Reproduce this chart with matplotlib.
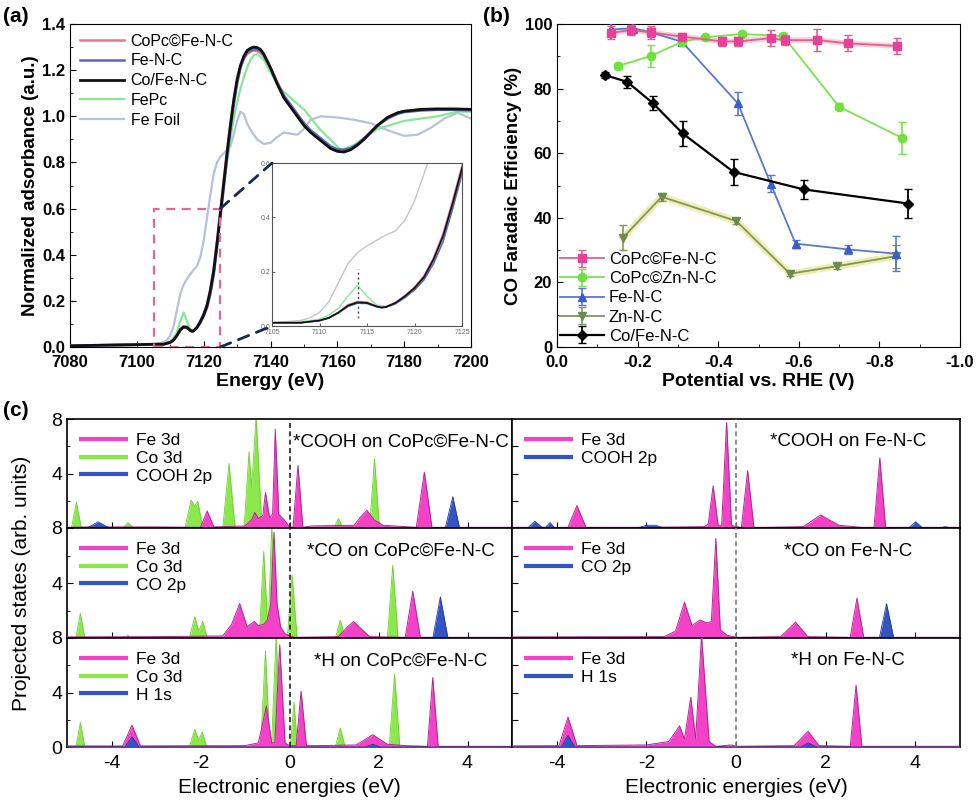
import matplotlib
matplotlib.use("Agg")
import matplotlib.pyplot as plt
from matplotlib.patches import Rectangle, ConnectionPatch
from matplotlib.ticker import MultipleLocator

plt.rcParams['font.family'] = ['Liberation Sans', 'DejaVu Sans']
plt.rcParams['axes.unicode_minus'] = False

W, H = 977, 807

# ---------------- panel (a): XANES ----------------
e_grid = [7080, 7090, 7100, 7105, 7108, 7110, 7111, 7112, 7113, 7114, 7115, 7116, 7116.5, 7117, 7118,
          7119, 7120, 7121, 7122, 7123, 7124, 7125, 7126, 7127, 7128, 7129, 7130, 7131, 7132, 7133,
          7134, 7135, 7136, 7137, 7138, 7140, 7142, 7144, 7146, 7148, 7150, 7152, 7155, 7158, 7160,
          7162, 7164, 7166, 7168, 7170, 7172, 7175, 7178, 7180, 7185, 7190, 7195, 7200]
cofe_abs = [0.005, 0.008, 0.01, 0.012, 0.012, 0.02, 0.03, 0.05, 0.075, 0.087, 0.085, 0.072, 0.068, 0.07, 0.085,
            0.11, 0.14, 0.18, 0.245, 0.33, 0.45, 0.58, 0.71, 0.84, 0.96, 1.07, 1.16, 1.22, 1.26, 1.285,
            1.295, 1.30, 1.298, 1.29, 1.27, 1.21, 1.14, 1.08, 1.04, 1.0, 0.96, 0.93, 0.895, 0.86, 0.848,
            0.845, 0.855, 0.875, 0.9, 0.93, 0.96, 0.995, 1.015, 1.022, 1.03, 1.032, 1.032, 1.03]
copc_abs = [0.005, 0.008, 0.01, 0.012, 0.012, 0.02, 0.03, 0.05, 0.078, 0.09, 0.088, 0.073, 0.069, 0.071, 0.087,
            0.112, 0.143, 0.185, 0.25, 0.34, 0.46, 0.59, 0.72, 0.85, 0.97, 1.07, 1.15, 1.21, 1.25, 1.27,
            1.28, 1.285, 1.283, 1.275, 1.26, 1.21, 1.15, 1.09, 1.05, 1.01, 0.97, 0.935, 0.9, 0.865, 0.852,
            0.85, 0.858, 0.878, 0.903, 0.932, 0.962, 0.995, 1.015, 1.022, 1.028, 1.03, 1.03, 1.028]
fenc_abs = [0.005, 0.008, 0.01, 0.012, 0.012, 0.02, 0.03, 0.048, 0.072, 0.084, 0.083, 0.071, 0.067, 0.069, 0.082,
            0.105, 0.133, 0.17, 0.23, 0.31, 0.43, 0.56, 0.69, 0.82, 0.94, 1.05, 1.14, 1.21, 1.25, 1.275,
            1.285, 1.29, 1.29, 1.283, 1.265, 1.21, 1.145, 1.09, 1.05, 1.01, 0.97, 0.94, 0.905, 0.87, 0.857,
            0.855, 0.862, 0.88, 0.905, 0.932, 0.96, 0.99, 1.01, 1.018, 1.025, 1.028, 1.028, 1.026]
fepc_e = [7080, 7100, 7105, 7108, 7110, 7111, 7112, 7113, 7114, 7115, 7116, 7117, 7118, 7119, 7120,
          7121, 7122, 7123, 7124, 7125, 7126, 7127, 7128, 7129, 7130, 7131, 7132, 7133, 7134, 7135,
          7136, 7138, 7140, 7143, 7146, 7150, 7155, 7161, 7165, 7172, 7180, 7190, 7196, 7200]
fepc_abs = [0.005, 0.01, 0.012, 0.015, 0.025, 0.04, 0.065, 0.11, 0.15, 0.11, 0.078, 0.072, 0.085, 0.105, 0.135,
            0.175, 0.24, 0.33, 0.44, 0.57, 0.69, 0.8, 0.9, 0.99, 1.06, 1.12, 1.17, 1.21, 1.245, 1.265,
            1.27, 1.245, 1.19, 1.12, 1.08, 1.03, 0.94, 0.855, 0.875, 0.945, 0.98, 1.0, 1.02, 1.02]
foil_e = [7080, 7100, 7105, 7108, 7109, 7110, 7111, 7112, 7113, 7114, 7115, 7116, 7117, 7118, 7119,
          7120, 7121, 7122, 7123, 7124, 7125, 7126, 7127, 7128, 7129, 7130, 7131, 7132, 7133, 7134,
          7136, 7138, 7140, 7142, 7144, 7146, 7148, 7150, 7152, 7155, 7160, 7165, 7170, 7175, 7180,
          7184, 7188, 7192, 7196, 7200]
foil_abs = [0.003, 0.008, 0.012, 0.02, 0.03, 0.05, 0.09, 0.16, 0.23, 0.27, 0.295, 0.315, 0.335, 0.35, 0.39,
            0.46, 0.56, 0.66, 0.75, 0.8, 0.825, 0.84, 0.855, 0.87, 0.92, 0.98, 1.02, 1.01, 0.97, 0.94,
            0.9, 0.88, 0.885, 0.91, 0.93, 0.925, 0.92, 0.945, 0.985, 1.0, 0.995, 0.985, 0.97, 0.94, 0.915,
            0.92, 0.95, 0.99, 1.015, 0.99]

# ---------------- panel (b): CO faradaic efficiency ----------------
v_copc_fe = [-0.135, -0.183, -0.233, -0.31, -0.41, -0.449, -0.53, -0.565, -0.646, -0.723, -0.843]
fe_copc_fe = [97.3, 98.1, 97.4, 96.1, 94.6, 94.6, 95.6, 95.0, 95.0, 94.0, 93.2]
er_copc_fe = [2, 1.5, 2, 1, 1.5, 1.5, 2.5, 1.5, 3.5, 2.5, 2.5]
v_copc_zn = [-0.152, -0.233, -0.31, -0.368, -0.459, -0.561, -0.70, -0.855]
fe_copc_zn = [87.0, 90.1, 94.5, 95.9, 96.9, 96.3, 74.4, 64.8]
er_copc_zn = [1, 3.5, 1, 0.5, 0.5, 1, 1, 5]
v_fenc = [-0.135, -0.188, -0.233, -0.31, -0.449, -0.53, -0.592, -0.723, -0.841]
fe_fenc = [98.3, 98.7, 97.4, 94.5, 75.4, 50.6, 32.0, 30.2, 28.9]
er_fenc = [2, 1.5, 1.5, 1, 3.5, 2.5, 1.2, 1.5, 5.5]
v_znnc = [-0.164, -0.26, -0.445, -0.578, -0.694, -0.841]
fe_znnc = [33.9, 46.5, 39.0, 22.7, 25.0, 28.1]
er_znnc = [4, 1.2, 1, 0.8, 0.8, 3.5]
v_cofe = [-0.119, -0.174, -0.237, -0.312, -0.438, -0.612, -0.872]
fe_cofe = [84.2, 82.1, 75.6, 66.1, 54.2, 48.8, 44.4]
er_cofe = [1, 1.8, 2.2, 4, 4, 3, 4.5]

# ---------------- panel (c): projected DOS (vertices) ----------------
# *COOH on CoPc@Fe-N-C
c1_co_x = [-5, -4.9, -4.79, -4.68, -3.75, -3.63, -3.5, -2.35, -2.21, -2.13, -2.06, -1.95, -1.5, -1.36,
           -1.22, -1.02, -0.91, -0.85, -0.75, -0.62, -0.5, 1.0, 1.10, 1.2, 1.8, 1.91, 2.02, 5]
c1_co_y = [0, 0, 1.9, 0, 0, 0.4, 0, 0, 2.05, 1.6, 1.95, 0, 0, 4.75,
           0, 0, 5.6, 3.0, 8.2, 0, 0, 0, 0.7, 0, 0, 5.1, 0, 0]
c1_fe_x = [-5, -4.5, -4.3, -4.1, -3, -2.0, -1.85, -1.7, -1.0, -0.85, -0.78, -0.7, -0.6, -0.54, -0.45,
           -0.38, -0.32, -0.24, -0.12, 0.0, 0.08, 0.19, 0.3, 0.5, 1.45, 1.6, 1.74, 1.9, 2.1, 2.85,
           3.03, 3.2, 3.5, 5]
c1_fe_y = [0.05, 0.08, 0.2, 0.08, 0.08, 0.05, 1.25, 0.08, 0.15, 0.6, 1.15, 0.7, 0.9, 2.6, 0.8,
           1.0, 7.25, 1.0, 0.6, 0.1, 0.05, 4.6, 0.05, 0.15, 0.2, 0.8, 1.3, 0.6, 0.2, 0.05,
           4.1, 0.05, 0.05, 0.05]
c1_ad_x = [-5, -4.55, -4.3, -4.05, 3.5, 3.67, 3.82, 5]
c1_ad_y = [0, 0, 0.45, 0, 0, 2.3, 0, 0]
# *CO on CoPc@Fe-N-C
c2_co_x = [-5, -4.8, -4.7, -4.6, -3.7, -3.63, -3.56, -2.25, -2.13, -2.04, -1.95, -1.85, -0.68, -0.58,
           -0.5, -0.47, -0.40, -0.3, -0.05, 0.06, 0.17, 1.03, 1.14, 1.25, 2.2, 2.32, 2.44, 5]
c2_co_y = [0, 0, 1.8, 0, 0, 0.2, 0, 0, 1.55, 0.5, 1.2, 0, 0, 6.3,
           1.5, 1.5, 8.2, 0, 0, 4.6, 0, 0, 1.3, 0, 0, 5.3, 0, 0]
c2_fe_x = [-5, -3.0, -1.5, -1.3, -1.12, -0.95, -0.88, -0.79, -0.7, -0.58, -0.5, -0.42, -0.35,
           -0.28, -0.2, -0.1, 0.1, 1.1, 1.3, 1.44, 1.6, 1.8, 2.6, 2.77, 2.94, 5]
c2_fe_y = [0.08, 0.1, 0.15, 1.0, 2.5, 0.8, 1.0, 1.2, 0.9, 1.0, 1.3, 2.5, 7.7,
           2.5, 0.8, 0.3, 0.05, 0.1, 0.8, 1.2, 0.7, 0.1, 0.05, 3.4, 0.05, 0.05]
c2_ad_x = [-5, 3.22, 3.39, 3.56, 5]
c2_ad_y = [0, 0, 3.0, 0, 0]
# *H on CoPc@Fe-N-C
c3_co_x = [-5, -4.8, -4.7, -4.6, -2.25, -2.13, -2.04, -1.96, -1.86, -0.65, -0.54, -0.45, -0.4,
           -0.30, -0.2, 0.02, 0.10, 0.18, 1.03, 1.14, 1.25, 2.24, 2.36, 2.48, 5]
c3_co_y = [0, 0, 1.8, 0, 0, 1.3, 0.5, 1.1, 0, 0, 7.05, 0.5, 0.5,
           8.2, 0, 0, 3.3, 0, 0, 1.4, 0, 0, 5.35, 0, 0]
c3_fe_x = [-5, -3.75, -3.54, -3.35, -1.0, -0.7, -0.52, -0.4, -0.33, -0.22, -0.1, 0.0, 0.15, 0.26,
           0.38, 0.6, 1.5, 1.87, 2.2, 2.6, 3.1, 3.22, 3.34, 5]
c3_fe_y = [0.08, 0.08, 1.6, 0.08, 0.1, 0.3, 3.0, 0.3, 0.3, 7.5, 0.3, 0.1, 0.1, 4.1,
           0.1, 0.1, 0.15, 0.9, 0.2, 0.1, 0.05, 5.1, 0.05, 0.05]
c3_ad_x = [-5, -3.7, -3.54, -3.38, 1.7, 1.87, 2.05, 5]
c3_ad_y = [0, 0, 0.75, 0, 0, 0.2, 0, 0]
# *COOH on Fe-N-C
f1_fe_x = [-5, -3.75, -3.55, -3.35, -2.0, -0.7, -0.62, -0.51, -0.4, -0.32, -0.21, -0.1, 0.0, 0.12,
           0.26, 0.4, 0.6, 1.5, 1.89, 2.3, 2.8, 3.08, 3.21, 3.34, 5]
f1_fe_y = [0.05, 0.05, 1.65, 0.05, 0.05, 0.1, 0.3, 3.1, 0.2, 0.2, 7.75, 0.2, 0.1, 0.05,
           4.2, 0.05, 0.05, 0.1, 0.95, 0.2, 0.05, 0.05, 5.15, 0.05, 0.05]
f1_ad_x = [-5, -4.65, -4.49, -4.33, -4.25, -4.15, -4.05, -2.2, -2.0, -1.8, -1.6, 3.85, 4.01, 4.17,
           4.55, 4.67, 4.8, 5]
f1_ad_y = [0, 0, 0.5, 0.05, 0.05, 0.4, 0, 0, 0.2, 0.2, 0, 0, 0.45, 0,
           0, 0.1, 0, 0]
# *CO on Fe-N-C
f2_fe_x = [-5, -1.6, -1.35, -1.15, -0.98, -0.81, -0.65, -0.55, -0.45, -0.35, -0.2, 0.0, 1.0, 1.33,
           1.6, 2.55, 2.70, 2.85, 5]
f2_fe_y = [0.08, 0.1, 0.5, 2.6, 0.9, 1.3, 1.1, 1.2, 7.25, 0.6, 0.2, 0.05, 0.1, 1.15,
           0.1, 0.05, 2.9, 0.05, 0.05]
f2_ad_x = [-5, 3.2, 3.36, 3.52, 5]
f2_ad_y = [0, 0, 2.5, 0, 0]
# *H on Fe-N-C
f3_fe_x = [-5, -3.95, -3.75, -3.55, -2.0, -1.5, -1.26, -1.15, -1.01, -0.9, -0.77, -0.6, -0.45, -0.1,
           0.0, 1.3, 1.61, 1.85, 2.55, 2.68, 2.81, 5]
f3_fe_y = [0.08, 0.1, 2.2, 0.1, 0.15, 0.4, 1.55, 0.6, 3.65, 0.6, 8.2, 0.4, 0.05, 0.15,
           0.05, 0.1, 1.15, 0.1, 0.05, 4.55, 0.05, 0.05]
f3_ad_x = [-5, -3.9, -3.75, -3.6, 1.45, 1.61, 1.8, 5]
f3_ad_y = [0, 0, 0.85, 0, 0, 0.3, 0, 0]


def box(l, t, r, b):
    return [l / W, 1 - b / H, (r - l) / W, (b - t) / H]


def bold_ticks(ax, size):
    ax.tick_params(labelsize=size)
    for lab in ax.get_xticklabels() + ax.get_yticklabels():
        lab.set_fontweight('bold')


fig = plt.figure(figsize=(9.77, 8.07), dpi=100)

# ===== (a) =====
ax = fig.add_axes(box(70, 24, 471, 347))
ax.plot(foil_e, foil_abs, color='#b9c0d8', lw=1.6, label='Fe Foil', zorder=2)
ax.plot(fepc_e, fepc_abs, color='#86e898', lw=1.6, label='FePc', zorder=3)
ax.plot(e_grid, copc_abs, color='#e07a8c', lw=1.8, label='CoPc©Fe-N-C', zorder=4)
ax.plot(e_grid, fenc_abs, color='#5a68b8', lw=1.8, label='Fe-N-C', zorder=5)
ax.plot(e_grid, cofe_abs, color='#111111', lw=2.0, label='Co/Fe-N-C', zorder=6)
ax.set_xlim(7080, 7200)
ax.set_ylim(0, 1.4)
ax.xaxis.set_major_locator(MultipleLocator(20))
ax.xaxis.set_minor_locator(MultipleLocator(10))
ax.yaxis.set_major_locator(MultipleLocator(0.2))
ax.yaxis.set_minor_locator(MultipleLocator(0.1))
ax.yaxis.set_major_formatter(plt.FormatStrFormatter('%.1f'))
ax.tick_params(direction='in', which='both', top=False, right=False)
ax.tick_params(which='major', length=4)
ax.tick_params(which='minor', length=2)
ax.tick_params(axis='x', pad=6)
bold_ticks(ax, 12)
ax.set_xlabel('Energy (eV)', fontsize=14, fontweight='bold', labelpad=2)
ax.set_ylabel('Normalized adsorbance (a.u.)', fontsize=13.5, fontweight='bold', labelpad=2)
handles, labels = ax.get_legend_handles_labels()
order = [2, 3, 4, 1, 0]
ax.legend([handles[i] for i in order], [labels[i] for i in order], loc='upper left',
          frameon=False, fontsize=11.5, handlelength=2.8, labelspacing=0.3,
          borderaxespad=0.2, handletextpad=0.4)
ax.add_patch(Rectangle((7105, 0), 20, 0.6, fill=False, edgecolor='#e06a8e',
                       linestyle=(0, (4, 3)), lw=1.6, zorder=7))

ins = fig.add_axes(box(272, 163, 462, 326))
ins.plot(foil_e, foil_abs, color='#c4c4c4', lw=1.0)
ins.plot(fepc_e, fepc_abs, color='#86e898', lw=1.0)
ins.plot(e_grid, copc_abs, color='#e07a8c', lw=1.2)
ins.plot(e_grid, fenc_abs, color='#5a68b8', lw=1.2)
ins.plot(e_grid, cofe_abs, color='#111111', lw=1.2)
ins.plot([7114, 7114], [0.03, 0.21], color='#444444', lw=1.0, linestyle=(0, (1.5, 2)))
ins.set_xlim(7105, 7125)
ins.set_ylim(0, 0.6)
ins.set_xticks([7105, 7110, 7115, 7120, 7125])
ins.set_yticks([0.0, 0.2, 0.4, 0.6])
ins.yaxis.set_major_formatter(plt.FormatStrFormatter('%.1f'))
ins.tick_params(direction='in', labelsize=5, colors='#666666', length=2, pad=1)
ins.tick_params(axis='x', pad=2)
for s in ins.spines.values():
    s.set_color('#555555')
    s.set_linewidth(0.8)

for xy_a, xy_i in [((7125, 0.6), (0, 1)), ((7125, 0.0), (0, 0))]:
    con = ConnectionPatch(xyA=xy_a, coordsA=ax.transData, xyB=xy_i, coordsB=ins.transAxes,
                          color='#1c2a4a', lw=2, linestyle=(0, (4, 3)), zorder=8)
    fig.add_artist(con)

# ===== (b) =====
bx = fig.add_axes(box(557, 24, 960, 347))
bx.plot(v_copc_fe, fe_copc_fe, color='#f6d0dc', lw=4, zorder=1)
bx.errorbar(v_copc_fe, fe_copc_fe, yerr=er_copc_fe, color='#e0608c', mfc='#e8409a', mec='#e8409a',
            marker='s', ms=6, lw=1.3, capsize=3, elinewidth=1.2, label='CoPc©Fe-N-C', zorder=5)
bx.errorbar(v_copc_zn, fe_copc_zn, yerr=er_copc_zn, color='#7ce050', mfc='#6fe03c', mec='#6fe03c',
            marker='o', ms=6, lw=1.3, capsize=3, elinewidth=1.2, label='CoPc©Zn-N-C', zorder=4)
bx.errorbar(v_fenc, fe_fenc, yerr=er_fenc, color='#5a78cc', mfc='#3a5ec8', mec='#3a5ec8',
            marker='^', ms=6, lw=1.3, capsize=3, elinewidth=1.2, label='Fe-N-C', zorder=3)
bx.plot(v_znnc, fe_znnc, color='#eeeeb0', lw=5, zorder=1)
bx.errorbar(v_znnc, fe_znnc, yerr=er_znnc, color='#7f965c', mfc='#6f8a50', mec='#6f8a50',
            marker='v', ms=6, lw=1.3, capsize=3, elinewidth=1.2, label='Zn-N-C', zorder=2)
bx.errorbar(v_cofe, fe_cofe, yerr=er_cofe, color='#000000', marker='D', ms=5, lw=1.6,
            capsize=3, elinewidth=1.3, label='Co/Fe-N-C', zorder=6)
bx.set_xlim(0, -1.0)
bx.set_ylim(0, 100)
bx.xaxis.set_major_locator(MultipleLocator(0.2))
bx.xaxis.set_minor_locator(MultipleLocator(0.1))
bx.yaxis.set_major_locator(MultipleLocator(20))
bx.yaxis.set_minor_locator(MultipleLocator(10))
bx.xaxis.set_major_formatter(plt.FormatStrFormatter('%.1f'))
bx.tick_params(direction='in', which='both', top=False, right=False)
bx.tick_params(which='major', length=4)
bx.tick_params(which='minor', length=2)
bx.tick_params(axis='x', pad=6)
bold_ticks(bx, 12)
bx.set_xlabel('Potential vs. RHE (V)', fontsize=14, fontweight='bold', labelpad=2)
bx.set_ylabel('CO Faradaic Efficiency (%)', fontsize=13.5, fontweight='bold', labelpad=2)
bx.legend(loc='lower left', frameon=False, fontsize=12, handlelength=2.6, labelspacing=0.25,
          borderaxespad=0.1, handletextpad=0.3, borderpad=0.1)

# ===== (c) =====
PINK, GREEN, BLUE = '#f442c8', '#8ae84a', '#3453c4'
rows = [(419, 528), (528, 638), (638, 747)]
left_data = [
    (c1_fe_x, c1_fe_y, c1_co_x, c1_co_y, c1_ad_x, c1_ad_y, 'COOH 2p', '*COOH on CoPc©Fe-N-C'),
    (c2_fe_x, c2_fe_y, c2_co_x, c2_co_y, c2_ad_x, c2_ad_y, 'CO 2p', '*CO on CoPc©Fe-N-C'),
    (c3_fe_x, c3_fe_y, c3_co_x, c3_co_y, c3_ad_x, c3_ad_y, 'H 1s', '*H on CoPc©Fe-N-C'),
]
right_data = [
    (f1_fe_x, f1_fe_y, None, None, f1_ad_x, f1_ad_y, 'COOH 2p', '*COOH on Fe-N-C'),
    (f2_fe_x, f2_fe_y, None, None, f2_ad_x, f2_ad_y, 'CO 2p', '*CO on Fe-N-C'),
    (f3_fe_x, f3_fe_y, None, None, f3_ad_x, f3_ad_y, 'H 1s', '*H on Fe-N-C'),
]

for col, (l, r, dataset, zcol) in enumerate([(67, 512, left_data, '#222222'),
                                              (512, 960, right_data, '#7a7a7a')]):
    for i, (t, b) in enumerate(rows):
        cx = fig.add_axes(box(l, t, r, b))
        fx, fy, cox, coy, adx, ady, adlab, title = dataset[i]
        if cox is not None:
            cx.fill_between(cox, 0, coy, color=GREEN, lw=0, zorder=2)
            cx.plot(cox, coy, color='#74cc3a', lw=0.6, zorder=2)
        cx.fill_between(fx, 0, fy, color=PINK, lw=0, zorder=3)
        cx.plot(fx, fy, color='#b02890', lw=0.7, zorder=3)
        cx.fill_between(adx, 0, ady, color=BLUE, lw=0, zorder=4)
        cx.plot(adx, ady, color='#243a90', lw=0.6, zorder=4)
        cx.axvline(0, color=zcol, lw=1.2, linestyle=(0, (3, 2)), zorder=5)
        # legend handles
        cx.plot([], [], color=PINK, lw=3, label='Fe 3d')
        if cox is not None:
            cx.plot([], [], color=GREEN, lw=3, label='Co 3d')
        cx.plot([], [], color=BLUE, lw=3, label=adlab)
        cx.legend(loc='upper left', frameon=False, fontsize=12.5, handlelength=2.6,
                  labelspacing=0.15, borderaxespad=0.6, handletextpad=0.6, borderpad=0.2)
        cx.text(0.75, 0.79, title, transform=cx.transAxes, ha='center', va='center', fontsize=13.5)
        cx.set_xlim(-5, 5)
        cx.set_ylim(0, 8)
        cx.set_xticks([-4, -2, 0, 2, 4])
        cx.tick_params(direction='in', which='both', top=False, right=False, length=4)
        cx.tick_params(axis='y', which='minor', length=2)
        cx.tick_params(axis='x', pad=6)
        for s in cx.spines.values():
            s.set_linewidth(1.2)
        if col == 0:
            cx.set_yticks([0, 4, 8])
            cx.set_yticks([2, 6], minor=True)
            cx.set_yticklabels(['0' if i == 2 else '', '4', '8'], fontsize=14)
        else:
            cx.set_yticks([2, 4, 6])
            cx.set_yticklabels([])
        if i == 2:
            cx.set_xticklabels(['-4', '-2', '0', '2', '4'], fontsize=14)
            cx.set_xlabel('Electronic energies (eV)', fontsize=15, labelpad=4)
        else:
            cx.set_xticklabels([])

fig.text(0.022, 1 - 583 / H, 'Projected states (arb. units)', rotation=90, ha='center',
         va='center', fontsize=15)

fig.text(3 / W, 1 - 16 / H, '(a)', fontsize=15, fontweight='bold', va='center')
fig.text(483 / W, 1 - 16 / H, '(b)', fontsize=15, fontweight='bold', va='center')
fig.text(3 / W, 1 - 410 / H, '(c)', fontsize=15, fontweight='bold', va='center')

fig.savefig('out.png', dpi=100)
